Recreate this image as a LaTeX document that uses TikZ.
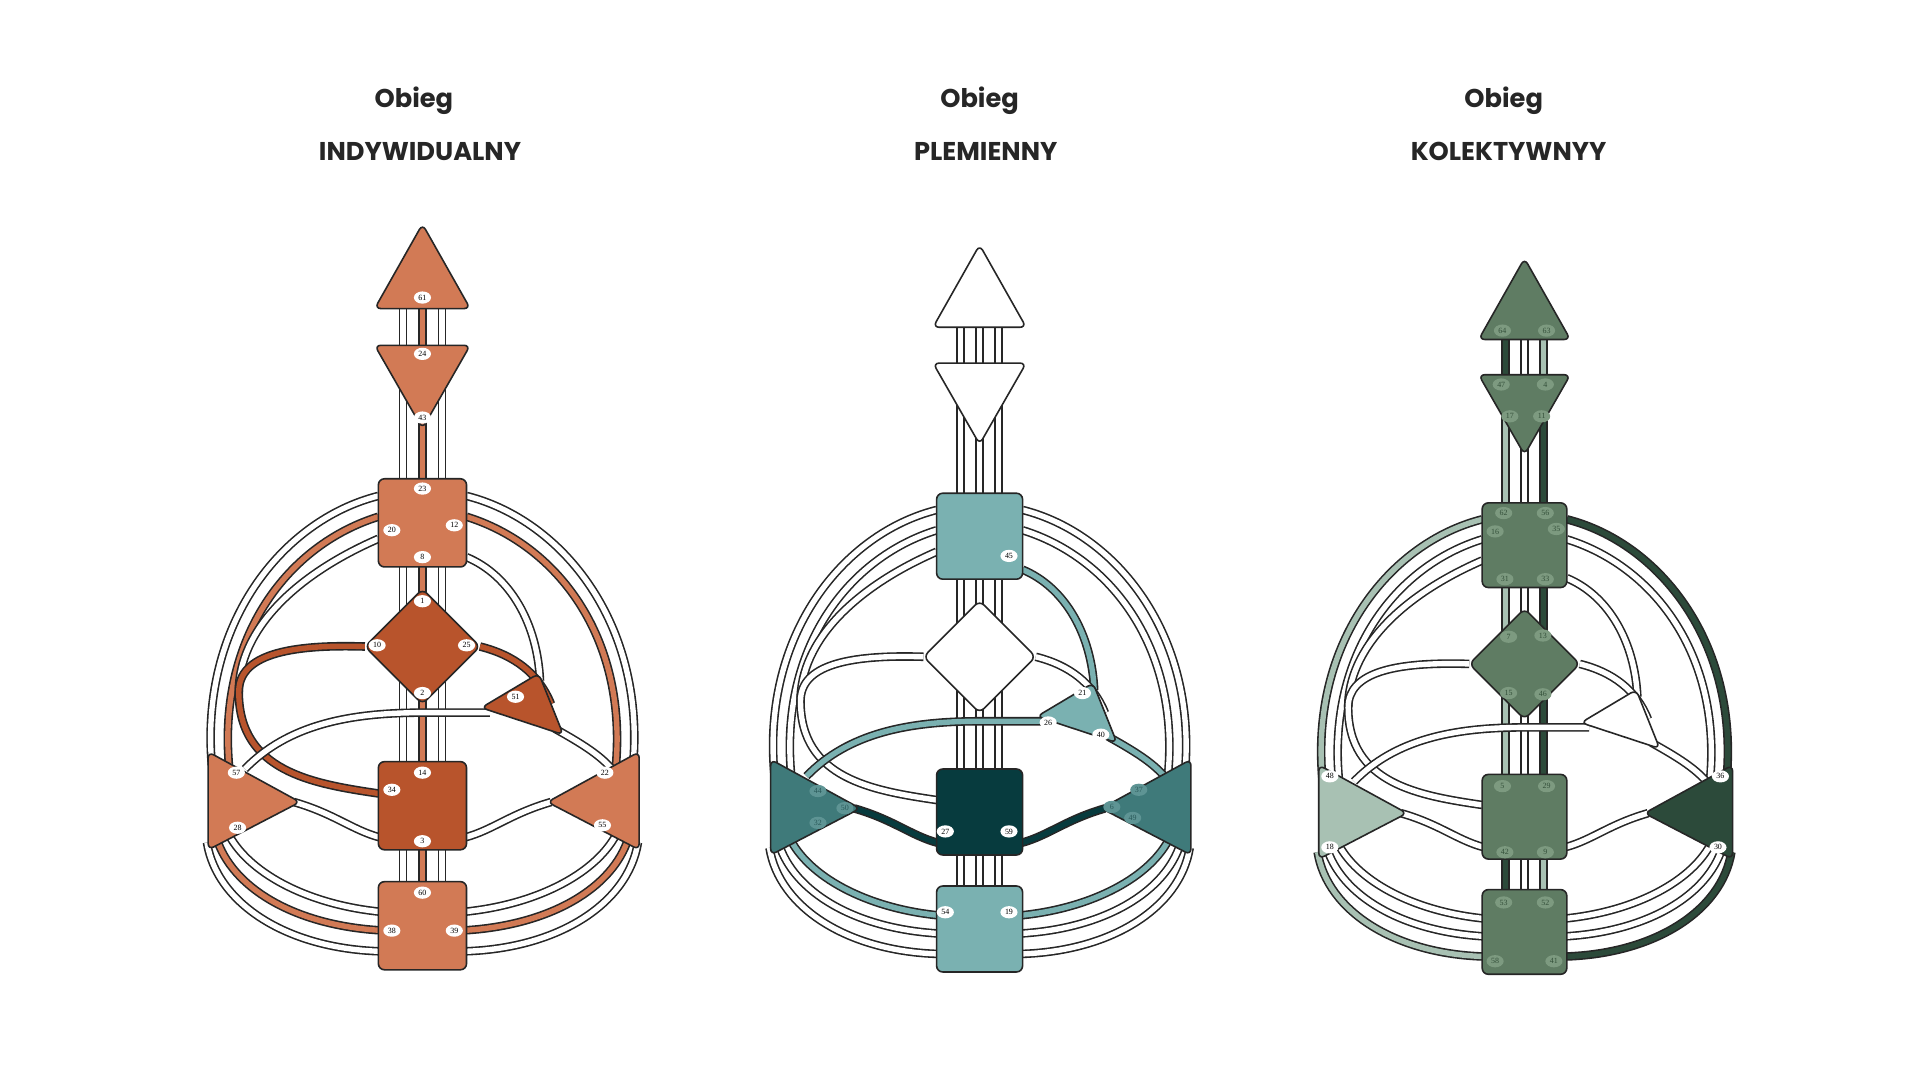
\documentclass[tikz,border=0pt]{standalone}
\usepackage{fontspec}
\setmainfont{Poppins}
\newfontfamily\gfont{Liberation Serif}
\usetikzlibrary{shapes.geometric}
\definecolor{bL}{HTML}{D27A55}\definecolor{bD}{HTML}{B8542C}
\definecolor{tL}{HTML}{7AB1B1}\definecolor{tM}{HTML}{3F7A7A}\definecolor{tD}{HTML}{073B3E}
\definecolor{gM}{HTML}{5F7C63}\definecolor{gL}{HTML}{A8C1B3}\definecolor{gD}{HTML}{2C4A3A}
\definecolor{gLab}{HTML}{7D9A80}\definecolor{gTxt}{HTML}{34503A}
\definecolor{tLab}{HTML}{5E9494}\definecolor{tTxt}{HTML}{2A5A5A}
\tikzset{
 lab/.style={ellipse,fill=white,draw=none,inner sep=0.6pt,minimum width=14pt,minimum height=10pt,font=\gfont\fontsize{6.5}{6.5}\selectfont,text=black},
 labg/.style={lab,fill=gLab,text=gTxt},
 labt/.style={lab,fill=tLab,text=tTxt},
 ctr/.style={draw=black!85,line width=1.3pt,rounded corners=5pt,line join=round},
 title/.style={font=\fontsize{21}{21}\selectfont\bfseries,text=black!85}
}
\newcommand\setc[2]{\expandafter\def\csname cc#1\endcsname{#2}}
\newcommand\CH[2]{\def\tmpc{white}\ifcsname cc#1\endcsname\edef\tmpc{\csname cc#1\endcsname}\fi
 \draw[line width=7pt,black!85] #2; \draw[line width=4.4pt,\tmpc] #2;}
\newcommand\Body{%
 \CH{6447}{(-16,245)--(-16,292)}\CH{6124}{(0,245)--(0,292)}\CH{634}{(16,245)--(16,292)}
 \CH{1762}{(-16,300)--(-16,398)}\CH{4323}{(0,300)--(0,398)}\CH{1156}{(16,300)--(16,398)}
 \CH{317}{(-16,455)--(-16,505)}\CH{81}{(0,455)--(0,495)}\CH{3313}{(16,455)--(16,505)}
 \CH{155}{(-16,550)--(-16,630)}\CH{214}{(0,560)--(0,630)}\CH{4629}{(16,550)--(16,630)}
 \CH{5342}{(-16,690)--(-16,725)}\CH{360}{(0,690)--(0,725)}\CH{529}{(16,690)--(16,725)}
 \CH{1648}{(-36,405) .. controls (-115,425) and (-182,510) .. (-172,625)}
 \CH{2057}{(-36,422) .. controls (-110,445) and (-167,520) .. (-158,625)}
 \CH{2010}{(-36,440) .. controls (-105,470) and (-150,515) .. (-150,565)}
 \CH{1034}{(-47,528) .. controls (-110,526) and (-150,535) .. (-150,565) .. controls (-150,630) and (-90,640) .. (-36,648)}
 \CH{3536}{(36,405) .. controls (115,425) and (182,510) .. (172,625)}
 \CH{1222}{(36,422) .. controls (110,445) and (167,520) .. (158,625)}
 \CH{4521}{(36,455) .. controls (72,470) and (94,510) .. (96,556)}
 \CH{2551}{(47,528) .. controls (75,535) and (95,550) .. (105,575)}
 \CH{3740}{(108,595) .. controls (135,610) and (150,620) .. (160,635)}
 \CH{4426}{(-145,628) .. controls (-110,592) and (-60,582) .. (0,582) -- (55,582)}
 \CH{5027}{(-105,655) .. controls (-70,665) and (-55,680) .. (-30,685)}
 \CH{596}{(30,685) .. controls (55,680) and (70,665) .. (105,655)}
 \CH{5432}{(-30,745) .. controls (-90,740) and (-140,715) .. (-158,682)}
 \CH{3828}{(-30,760) .. controls (-100,757) and (-152,728) .. (-167,688)}
 \CH{5818}{(-30,777) .. controls (-110,776) and (-168,738) .. (-176,688)}
 \CH{1949}{(30,745) .. controls (90,740) and (140,715) .. (158,682)}
 \CH{3955}{(30,760) .. controls (100,757) and (152,728) .. (167,688)}
 \CH{4130}{(30,777) .. controls (110,776) and (168,738) .. (176,688)}
 \draw[ctr,fill=\fH] (0,183)--(39,252)--(-39,252)--cycle;
 \draw[ctr,fill=\fA] (-39,282)--(39,282)--(0,350)--cycle;
 \draw[ctr,fill=\fT] (-36,391) rectangle (36,463);
 \draw[ctr,fill=\fG] (0,481)--(47,528)--(0,575)--(-47,528)--cycle;
 \draw[ctr,fill=\fE] (48,578)--(95,550)--(115,600)--cycle;
 \draw[ctr,fill=\fS] (-36,622) rectangle (36,694);
 \draw[ctr,fill=\fR] (-36,720) rectangle (36,792);
 \draw[ctr,fill=\fL] (-175,614)--(-100,655)--(-175,694)--cycle;
 \draw[ctr,fill=\fP] (177,614)--(102,655)--(177,694)--cycle;
}
\begin{document}
\begin{tikzpicture}[x=1pt,y=-1pt]
\useasboundingbox[fill=white] (0,0) rectangle (1568,882);
\node[title] (t1a) at (338,82) {Obieg};
\node[title] (t1b) at (343,124) {INDYWIDUALNY};
\node[title] (t2a) at (800,82) {Obieg};
\node[title] (t2b) at (805,124) {PLEMIENNY};
\node[title] (t3a) at (1228,82) {Obieg};
\node[title] (t3b) at (1232,124) {KOLEKTYWNYY};
% chart 1
\begin{scope}[shift={(345,0)}]
 \def\fH{bL}\def\fA{bL}\def\fT{bL}\def\fG{bD}\def\fE{bD}\def\fS{bD}\def\fR{bL}\def\fL{bL}\def\fP{bL}
 \setc{6124}{bL}\setc{4323}{bL}\setc{81}{bL}\setc{214}{bL}\setc{360}{bL}
 \setc{2057}{bL}\setc{1034}{bD}\setc{2551}{bD}\setc{1222}{bL}\setc{3828}{bL}\setc{3955}{bL}
 \Body
 \foreach \x/\y/\n in {0/243/61,0/289/24,0/341/43,0/399/23,-25/433/20,26/429/12,0/455/8,0/491/1,-37/527/10,36/527/25,0/566/2,76/569/51,0/631/14,-25/645/34,0/687/3,0/729/60,-25/760/38,26/760/39,-152/631/57,-151/676/28,149/631/22,147/674/55}
  {\node[lab] at (\x,\y) {\n};}
\end{scope}
% chart 2
\begin{scope}[shift={(800,200)},scale=0.975,shift={(0,-183)}]
 \def\fH{white}\def\fA{white}\def\fT{tL}\def\fG{white}\def\fE{tL}\def\fS{tD}\def\fR{tL}\def\fL{tM}\def\fP{tM}
 \setc{4521}{tL}\setc{3740}{tL}\setc{4426}{tL}\setc{5432}{tL}\setc{1949}{tL}\setc{5027}{tD}\setc{596}{tD}
 \Body
\end{scope}
\foreach \x/\y/\n in {824/454/45,884/566/21,856/590/26,899/600/40,772/679/27,824/679/59,772/745/54,824/745/19}{\node[lab] at (\x,\y) {\n};}
\foreach \x/\y/\n in {668/646/44,690/660/50,668/672/32,930/645/37,908/659/6,925/668/49}{\node[labt] at (\x,\y) {\n};}
% chart 3
\begin{scope}[shift={(1245,211)},scale=0.96,shift={(0,-183)}]
 \def\fH{gM}\def\fA{gM}\def\fT{gM}\def\fG{gM}\def\fE{white}\def\fS{gM}\def\fR{gM}\def\fL{gL}\def\fP{gD}
 \setc{6447}{gD}\setc{634}{gL}\setc{1762}{gL}\setc{1156}{gD}\setc{317}{gL}\setc{3313}{gD}
 \setc{155}{gL}\setc{4629}{gD}\setc{5342}{gD}\setc{529}{gL}\setc{1648}{gL}\setc{3536}{gD}\setc{5818}{gL}\setc{4130}{gD}
 \Body
\end{scope}
\foreach \x/\y/\n in {1227/270/64,1263/270/63,1226/314/47,1262/314/4,1233/340/17,1259/340/11,1228/419/62,1262/419/56,1221/434/16,1271/432/35,1229/473/31,1262/473/33,1232/520/7,1260/519/13,1232/566/15,1260/567/46,1227/642/5,1263/642/29,1229/696/42,1262/696/9,1228/737/53,1262/737/52,1221/785/58,1269/785/41}{\node[labg] at (\x,\y) {\n};}
\foreach \x/\y/\n in {1086/634/48,1086/692/18,1405/634/36,1403/692/30}{\node[lab] at (\x,\y) {\n};}
\end{tikzpicture}
\end{document}
